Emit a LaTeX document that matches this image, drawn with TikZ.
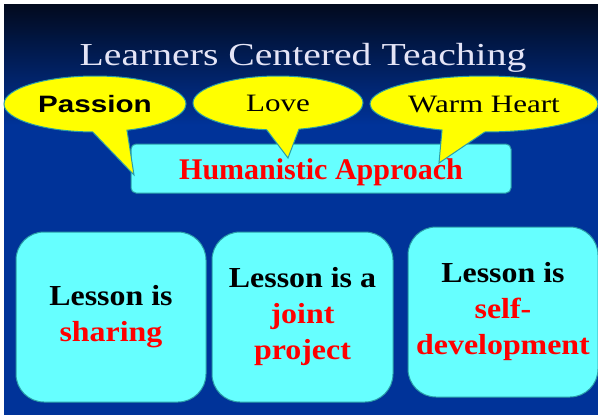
\documentclass[tikz,border=0pt]{standalone}
\usepackage{fontspec}
\usetikzlibrary{shapes.callouts}
\newfontfamily\titlefont[FakeStretch=1.24]{Liberation Serif}
\newfontfamily\lessonfont[FakeStretch=1.1]{Liberation Serif}
\newfontfamily\headfont{Liberation Serif}
\newfontfamily\passionfont[FakeStretch=1.25]{Liberation Sans}
\definecolor{slideblue}{HTML}{003399}
\definecolor{slidetop}{HTML}{020A1E}
\definecolor{boxcyan}{HTML}{66FFFF}
\definecolor{boxedge}{HTML}{2A9DA8}
\definecolor{bubbleyellow}{HTML}{FFFF00}
\definecolor{titlewhite}{HTML}{E4E4F6}
\tikzset{
  bubble/.style={ellipse callout, fill=bubbleyellow, draw=boxedge, line width=1pt, inner sep=0pt, callout pointer arc=22},
  lesson/.style={rounded corners=28pt, fill=boxcyan, draw=boxedge, line width=1pt, minimum height=170pt, align=center,
    font=\lessonfont\bfseries\fontsize{29}{36}\selectfont},
}
\begin{document}
\begin{tikzpicture}[x=1pt,y=-1pt]
    \useasboundingbox (0,0) rectangle (598,416);
    \fill[slideblue] (4,4) rectangle (598,415);
    \shade[top color=slidetop, bottom color=slideblue] (4,4) rectangle (598,125);
    \node[text=titlewhite, font=\titlefont\fontsize{32}{38}\selectfont, anchor=base] (title) at (303,65) {Learners Centered Teaching};
    \node[fill=boxcyan, draw=boxedge, line width=1pt, rounded corners=5pt, minimum width=380pt, minimum height=49pt] (human) at (321,168.5) {};
    \coordinate (tipP) at (134,175);
    \coordinate (tipL) at (288,158);
    \coordinate (tipW) at (439,163);
    \node[bubble, minimum width=182pt, minimum height=56pt, callout absolute pointer={(tipP)},
      font=\passionfont\bfseries\fontsize{23.7}{28}\selectfont] (passion) at (95,104) {Passion};
    \node[bubble, minimum width=170pt, minimum height=54pt, callout absolute pointer={(tipL)},
      font=\titlefont\fontsize{25}{30}\selectfont] (love) at (278,103) {Love};
    \node[bubble, minimum width=228pt, minimum height=56pt, callout absolute pointer={(tipW)},
      font=\titlefont\fontsize{25}{30}\selectfont] (warm) at (484,104) {Warm Heart};
    \node[text=red, font=\headfont\bfseries\fontsize{30}{36}\selectfont, anchor=base] (humantext) at (321,179) {Humanistic Approach};
    \node[lesson, minimum width=190pt] (sharing) at (111,317) {Lesson is\\\textcolor{red}{sharing}};
    \node[lesson, minimum width=181pt] (joint) at (302.5,317) {Lesson is a\\\textcolor{red}{joint}\\\textcolor{red}{project}};
    \node[lesson, minimum width=190pt] (selfdev) at (503,312) {Lesson is\\\textcolor{red}{self-}\\\textcolor{red}{development}};
\end{tikzpicture}
\end{document}
